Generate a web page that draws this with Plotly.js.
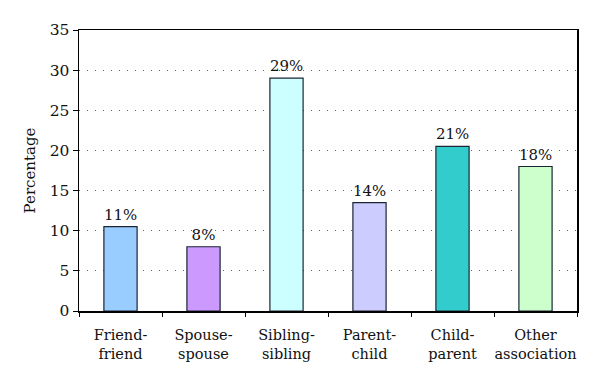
<!DOCTYPE html>
<html><head><meta charset="utf-8">
<script src="https://cdn.plot.ly/plotly-3.0.1.min.js"></script>
<style>html,body{margin:0;padding:0;background:#fff}#c{width:600px;height:384px}</style>
</head><body><div id="c"></div>
<script>
const categories = ["Friend-<br>friend","Spouse-<br>spouse","Sibling-<br>sibling","Parent-<br>child","Child-<br>parent","Other<br>association"];
const values = [10.5, 8, 29, 13.5, 20.5, 18];
const labels = ["11%","8%","29%","14%","21%","18%"];
const colors = ["#99ccff","#cc99ff","#ccffff","#ccccff","#33cccc","#ccffcc"];
const font = "DejaVu Serif";
Plotly.newPlot("c", [{
  type: "bar", x: categories, y: values, text: labels, textposition: "outside",
  cliponaxis: false,
  textfont: {family: font, size: 15, color: "#111"},
  marker: {color: colors, line: {color: "#1c2533", width: 1.2}},
  width: 0.4, hoverinfo: "none"
}], {
  width: 600, height: 384,
  margin: {l: 79, r: 23, t: 30, b: 73},
  paper_bgcolor: "#fff", plot_bgcolor: "#fff",
  showlegend: false,
  font: {family: font, size: 15, color: "#111"},
  xaxis: {showline: true, linecolor: "#000", linewidth: 1.5, mirror: true,
    ticks: "outside", tickson: "boundaries", ticklen: 4, tickcolor: "#000",
    ticklabelstandoff: 10,
    tickangle: 0, automargin: false,
    showgrid: false, tickfont: {family: font, size: 14.5, color: "#111"}},
  yaxis: {range: [0, 35], dtick: 5, showline: true, linecolor: "#000", linewidth: 1.5, mirror: true,
    ticks: "outside", ticklen: 5, tickcolor: "#000",
    showgrid: true, gridcolor: "#666", gridwidth: 1, griddash: "1px,7px",
    zeroline: false, tickfont: {family: font, size: 15.5, color: "#111"},
    title: {text: "Percentage", font: {family: font, size: 15, color: "#111"}, standoff: 10}}
}, {displayModeBar: false, staticPlot: true});
</script></body></html>
